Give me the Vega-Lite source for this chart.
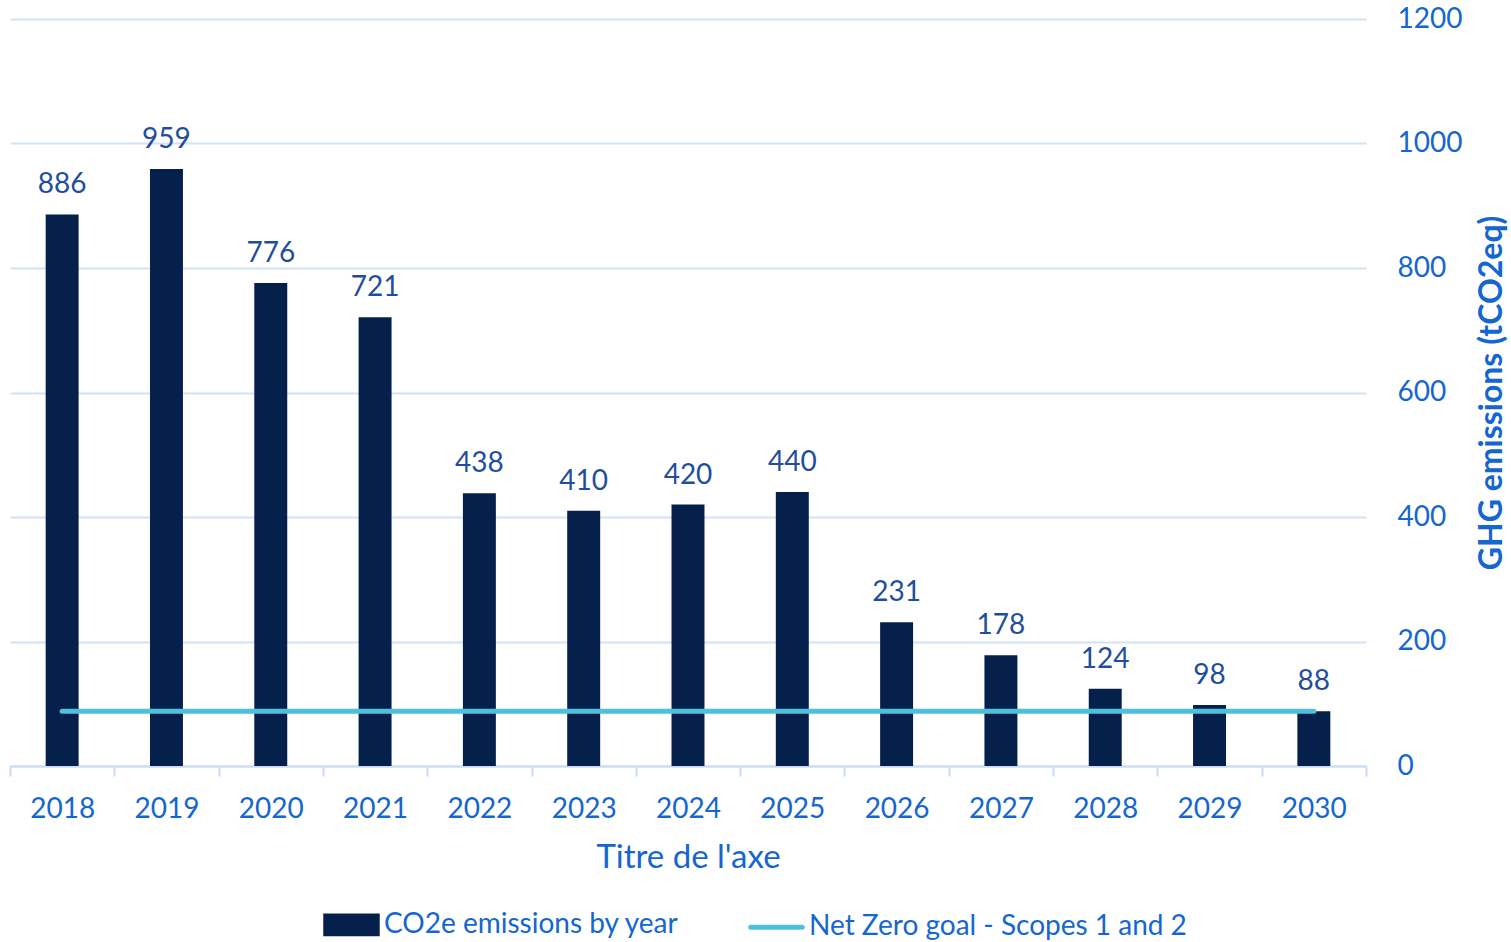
{
  "$schema": "https://vega.github.io/schema/vega-lite/v6.json",
  "width": 1356,
  "height": 747,
  "autosize": {"type": "none"},
  "padding": {"left": 10, "top": 19, "right": 145, "bottom": 176},
  "background": "white",
  "config": {
    "view": {"stroke": null},
    "font": "Lato"
  },
  "data": {
    "values": [
      {"year": "2018", "emissions": 886, "goal": 88},
      {"year": "2019", "emissions": 959, "goal": 88},
      {"year": "2020", "emissions": 776, "goal": 88},
      {"year": "2021", "emissions": 721, "goal": 88},
      {"year": "2022", "emissions": 438, "goal": 88},
      {"year": "2023", "emissions": 410, "goal": 88},
      {"year": "2024", "emissions": 420, "goal": 88},
      {"year": "2025", "emissions": 440, "goal": 88},
      {"year": "2026", "emissions": 231, "goal": 88},
      {"year": "2027", "emissions": 178, "goal": 88},
      {"year": "2028", "emissions": 124, "goal": 88},
      {"year": "2029", "emissions": 98, "goal": 88},
      {"year": "2030", "emissions": 88, "goal": 88}
    ]
  },
  "encoding": {
    "x": {
      "field": "year",
      "type": "nominal",
      "scale": {"paddingInner": 0, "paddingOuter": 0},
      "axis": {
        "title": "Titre de l'axe",
        "labelAngle": 0,
        "labelFontSize": 28,
        "labelColor": "#1466D0",
        "labelPadding": 19,
        "tickBand": "extent",
        "tickSize": 10,
        "tickColor": "#C9DCF4",
        "tickWidth": 2,
        "domainColor": "#C9DCF4",
        "domainWidth": 2,
        "titleFontSize": 33,
        "titleFontWeight": "normal",
        "titleColor": "#1466D0",
        "titlePadding": 18,
        "grid": false
      }
    }
  },
  "layer": [
    {
      "mark": {"type": "bar", "color": "#05204A", "width": {"band": 0.316}},
      "encoding": {
        "y": {
          "field": "emissions",
          "type": "quantitative",
          "scale": {"domain": [0, 1200]},
          "axis": {
            "orient": "right",
            "values": [0, 200, 400, 600, 800, 1000, 1200],
            "format": "d",
            "title": "GHG emissions (tCO2eq)",
            "titleAngle": 270,
            "titleFontSize": 32,
            "titleFontWeight": "bold",
            "titleColor": "#1466D0",
            "titlePadding": 47,
            "labelFontSize": 28,
            "labelColor": "#1466D0",
            "labelPadding": 31,
            "ticks": false,
            "domain": false,
            "grid": true,
            "gridColor": "#D2E2F7",
            "gridWidth": 2
          }
        },
        "color": {
          "datum": "CO2e emissions by year",
          "type": "nominal",
          "scale": {
            "domain": ["CO2e emissions by year", "Net Zero goal - Scopes 1 and 2"],
            "range": ["#05204A", "#4FC0DC"]
          },
          "legend": {
            "title": null,
            "orient": "none",
            "legendX": 313,
            "legendY": 877,
            "direction": "horizontal",
            "labelFontSize": 28,
            "labelColor": "#1466D0",
            "labelBaseline": "middle",
            "labelOffset": 4,
            "columnPadding": 60,
            "symbolSize": 2650,
            "labelLimit": 600,
            "encode": {
              "symbols": {
                "update": {
                  "shape": {"signal": "datum.value === 'CO2e emissions by year' ? 'M-1,-0.34H1V0.34H-1Z' : 'M-1,0H1'"},
                  "fill": {"signal": "datum.value === 'CO2e emissions by year' ? '#05204A' : 'transparent'"},
                  "stroke": {"signal": "datum.value === 'CO2e emissions by year' ? 'transparent' : '#4FC0DC'"},
                  "strokeWidth": {"value": 5},
                  "strokeCap": {"value": "round"},
                  "opacity": {"value": 1}
                }
              }
            }
          }
        }
      }
    },
    {
      "mark": {"type": "text", "baseline": "alphabetic", "dy": -21, "fontSize": 28, "color": "#1F4E9E"},
      "encoding": {
        "y": {"field": "emissions", "type": "quantitative"},
        "text": {"field": "emissions", "type": "quantitative"}
      }
    },
    {
      "mark": {"type": "line", "strokeWidth": 5, "strokeCap": "round"},
      "encoding": {
        "y": {"field": "goal", "type": "quantitative"},
        "color": {"datum": "Net Zero goal - Scopes 1 and 2", "type": "nominal"}
      }
    }
  ]
}
